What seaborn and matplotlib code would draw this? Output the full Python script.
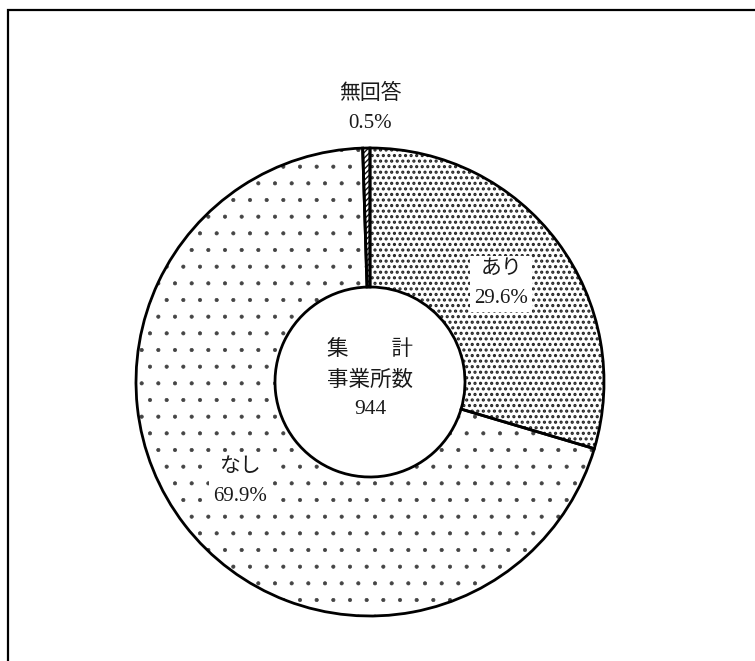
import numpy as np
import matplotlib
matplotlib.use("Agg")
import matplotlib.pyplot as plt
import seaborn as sns
from matplotlib.lines import Line2D

sns.set_theme(style="white")
plt.rcParams['font.family'] = ['Liberation Serif', 'Noto Sans CJK JP', 'DejaVu Sans']
plt.rcParams['hatch.linewidth'] = 1.0

# data
categories = ["あり", "なし", "無回答"]
values = [29.6, 69.9, 0.5]
pct_labels = ["29.6%", "69.9%", "0.5%"]
center_lines = ["集\u3000\u3000計", "事業所数", "944"]

hatches = ["...", ".", "//////"]
hatch_colors = ["#222222", "#444444", "#111111"]
hatch_lws = [1.5, 0.5, 1.0]

W, H = 755, 661
fig = plt.figure(figsize=(W / 100, H / 100), dpi=100)
fig.patch.set_facecolor("white")

cx, cy, R = 370, 382, 234
ring_w = 1 - 95 / 234
ax = fig.add_axes([(cx - R) / W, (H - cy - R) / H, 2 * R / W, 2 * R / H])

# layer 1: hatched fills
fills, _ = ax.pie(values, startangle=90, counterclock=False, radius=1.0,
                  colors=["white"] * 3,
                  wedgeprops=dict(width=ring_w, linewidth=0))
for w, h, hc, hl in zip(fills, hatches, hatch_colors, hatch_lws):
    w.set_edgecolor(hc)
    w.set_linewidth(0)
    w.set_hatch(h)
    if hasattr(w, "set_hatch_linewidth"):
        w.set_hatch_linewidth(hl)
    else:
        w._hatch_linewidth = hl
    w.set_clip_on(False)

# layer 2: black outlines
outlines, _ = ax.pie(values, startangle=90, counterclock=False, radius=1.0,
                     colors=["none"] * 3,
                     wedgeprops=dict(width=ring_w, edgecolor="black",
                                     linewidth=2.0, fill=False))
for w in outlines:
    w.set_clip_on(False)

ax.set_xlim(-1, 1)
ax.set_ylim(-1, 1)
ax.set_aspect("auto")
ax.axis("off")

for i, w in enumerate(fills):
    mid = np.deg2rad((w.theta1 + w.theta2) / 2)
    if i == 2:
        r = 1.17
        ax.text(r * np.cos(mid) + 0.02, r * np.sin(mid), categories[i] + "\n" + pct_labels[i],
                ha="center", va="center", fontsize=15, linespacing=1.7, color="#1a1a1a")
    else:
        r = 0.7
        ax.text(r * np.cos(mid), r * np.sin(mid), categories[i] + "\n" + pct_labels[i],
                ha="center", va="center", fontsize=15, linespacing=1.7, color="#1a1a1a",
                bbox=dict(facecolor="white", edgecolor="none", pad=3))

ax.text(0, 0.01, "\n".join(center_lines), ha="center", va="center",
        fontsize=15.5, linespacing=1.7, color="#1a1a1a")

# frame (left and top edges visible)
fx = 7.5 / W
fy = (H - 10) / H
fig.add_artist(Line2D([fx, fx, 1.0], [0.0, fy, fy], transform=fig.transFigure,
                      color="black", linewidth=1.6, solid_joinstyle="miter"))

fig.savefig("out.png", dpi=100, facecolor="white")
